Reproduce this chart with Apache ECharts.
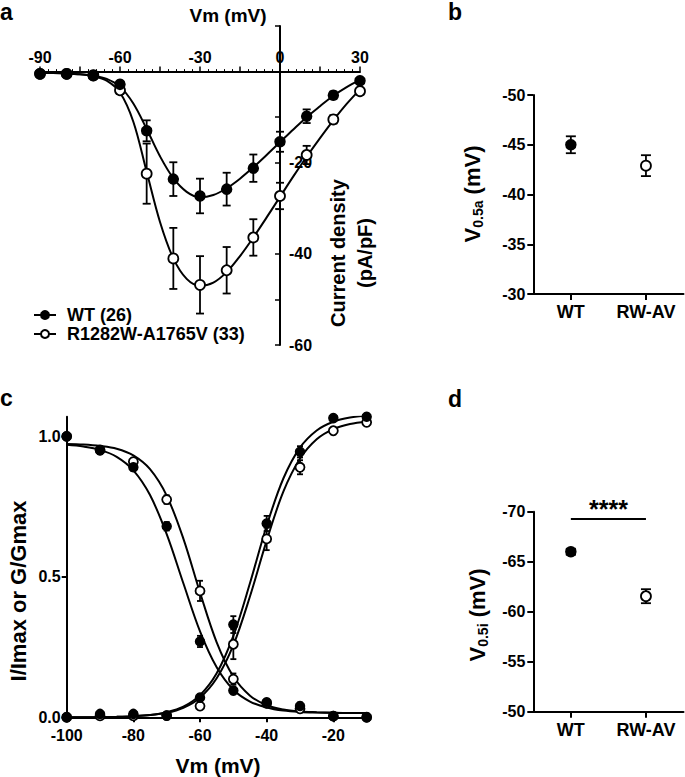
<!DOCTYPE html>
<html><head><meta charset="utf-8">
<script src="https://cdn.jsdelivr.net/npm/echarts@6/dist/echarts.min.js"></script>
<style>html,body{margin:0;padding:0;background:#fff}#c{width:685px;height:777px}</style>
</head><body><div id="c"></div>
<script>
// ---- Panel a: current density vs Vm (mean ± SEM) ----
const ivVm    = [-90,-80,-70,-60,-50,-40,-30,-20,-10,0,10,20,30];
const ivWT    = [-0.5,-0.5,-0.9,-2.8,-13.0,-23.6,-27.3,-25.8,-21.2,-15.4,-9.8,-5.2,-2.0];
const ivWTerr = [0.2,0.2,0.3,0.6,2.3,3.7,3.8,3.6,3.0,2.2,1.5,0.8,0.5];
const ivRW    = [-0.5,-0.5,-0.8,-4.1,-22.4,-41.0,-46.8,-43.6,-36.4,-27.3,-18.3,-10.5,-4.3];
const ivRWerr = [0.2,0.2,0.3,0.8,6.6,6.7,6.3,5.1,4.0,2.9,2.0,0.9,0.5];
// fitted curves, every 5 mV
const ivFitVm = [-90,-85,-80,-75,-70,-65,-60,-55,-50,-45,-40,-35,-30,-25,-20,-15,-10,-5,0,5,10,15,20,25,30];
const ivFitWT = [-0.3,-0.3,-0.4,-0.6,-0.9,-1.6,-3.3,-7.0,-12.6,-18.6,-23.4,-26.4,-27.6,-27.1,-25.6,-23.5,-21.0,-18.3,-15.5,-12.7,-10.0,-7.6,-5.3,-3.4,-1.8];
const ivFitRW = [-0.3,-0.3,-0.4,-0.6,-1.0,-2.0,-4.6,-11.0,-22.0,-33.0,-41.0,-45.5,-47.0,-46.3,-44.0,-40.5,-36.4,-32.0,-27.5,-23.0,-18.7,-14.6,-10.7,-7.1,-3.9];
const ivXLabels = [-90,-60,-30,0,30];
const ivYLabels = [-20,-40,-60];
const legendNames = ['WT (26)','R1282W-A1765V (33)'];

// ---- Panel b / d: half-voltages ----
const groups = ['WT','RW-AV'];
const v05a    = [-45.0,-42.9];
const v05aErr = [0.85,1.05];
const v05i    = [-66.0,-61.55];
const v05iErr = [0.3,0.7];
const sigLevel = -69.3;
const sigText = '****';

// ---- Panel c: steady-state activation / inactivation ----
const ssVm       = [-100,-90,-80,-70,-60,-50,-40,-30,-20,-10];
const inactWT    = [1.0,0.95,0.89,0.68,0.27,0.095,0.053,0.04,0.004,0.0];
const inactWTerr = [0.005,0.01,0.012,0.015,0.02,0.01,0.01,0.012,0.005,0.005];
const inactRW    = [1.0,0.952,0.91,0.775,0.45,0.136,0.05,0.03,0.004,0.0];
const inactRWerr = [0.005,0.01,0.01,0.015,0.036,0.02,0.01,0.01,0.005,0.005];
const actWT      = [0.0,0.012,0.012,0.006,0.07,0.33,0.69,0.945,1.065,1.07];
const actWTerr   = [0.003,0.005,0.005,0.004,0.01,0.03,0.027,0.02,0.008,0.005];
const actRW      = [0.0,0.005,0.005,0.006,0.04,0.26,0.635,0.89,1.02,1.05];
const actRWerr   = [0.003,0.004,0.004,0.004,0.01,0.053,0.04,0.025,0.01,0.008];
// fitted curves, every 5 mV
const ssFitVm     = [-100,-95,-90,-85,-80,-75,-70,-65,-60,-55,-50,-45,-40,-35,-30,-25,-20,-15,-10];
const inactFitWT  = [0.97,0.964,0.952,0.927,0.879,0.791,0.652,0.477,0.306,0.178,0.098,0.056,0.035,0.024,0.019,0.017,0.016,0.015,0.015];
const inactFitRW  = [0.973,0.971,0.966,0.956,0.932,0.883,0.789,0.636,0.444,0.267,0.145,0.077,0.043,0.028,0.021,0.018,0.016,0.015,0.015];
const actFitWT    = [0.0,0.0,0.001,0.002,0.004,0.008,0.018,0.038,0.079,0.157,0.29,0.478,0.682,0.85,0.96,1.021,1.052,1.067,1.074];
const actFitRW    = [0.0,0.0,0.001,0.002,0.004,0.008,0.016,0.034,0.07,0.139,0.257,0.431,0.629,0.803,0.921,0.99,1.026,1.044,1.052];
const ssXLabels = [-100,-80,-60,-40,-20];
const ssYLabels = [0,0.5,1.0];

const FONT = 'Liberation Sans';
const txt = (size) => ({fontFamily:FONT, fontWeight:'bold', fontSize:size, color:'#000'});
const AXL = {show:true, lineStyle:{color:'#000', width:2}};

function errRender(capW){
  return function(params, api){
    const x = api.value(0), y = api.value(1), e = api.value(2);
    const lo = api.coord([x, y - e]), hi = api.coord([x, y + e]);
    const style = {stroke:'#000', lineWidth:1.8, fill:null};
    return {type:'group', children:[
      {type:'line', shape:{x1:lo[0],y1:lo[1],x2:hi[0],y2:hi[1]}, style},
      {type:'line', shape:{x1:lo[0]-capW/2,y1:lo[1],x2:lo[0]+capW/2,y2:lo[1]}, style},
      {type:'line', shape:{x1:hi[0]-capW/2,y1:hi[1],x2:hi[0]+capW/2,y2:hi[1]}, style}
    ]};
  };
}
function errSeries(xs, ys, es, xi, cap){
  return {type:'custom', xAxisIndex:xi, yAxisIndex:xi, z:1, clip:false, silent:true,
    renderItem: errRender(cap), encode:{x:0,y:1},
    data: xs.map((x,i)=>[x, ys[i], es[i]])};
}
const filled = {color:'#000', borderColor:'#000', borderWidth:1.5, opacity:1};
const open = {color:'#fff', borderColor:'#000', borderWidth:1.8, opacity:1};
function pointSeries(name, xs, ys, xi, style, size, z){
  return {type:'line', name, xAxisIndex:xi, yAxisIndex:xi, z:z,
    data: xs.map((x,i)=>[x, ys[i]]),
    symbol:'circle', symbolSize:size, showSymbol:true,
    lineStyle:{color:'#000', width:2, opacity:0}, itemStyle:style, emphasis:{disabled:true}};
}
function fitSeries(xs, ys, xi){
  return {type:'line', xAxisIndex:xi, yAxisIndex:xi, z:2, silent:true,
    data: xs.map((x,i)=>[x, ys[i]]), smooth:0.35, showSymbol:false, symbol:'none',
    lineStyle:{color:'#000', width:2}, emphasis:{disabled:true}};
}
function dotSeries(gi, vals, xi, style){
  return {type:'scatter', xAxisIndex:xi, yAxisIndex:xi, z:3, symbol:'circle', symbolSize:10,
    itemStyle:style, data:[[groups[gi], vals[gi]]], emphasis:{disabled:true}};
}

const option = {
  animation:false,
  grid:[
    {left:40, top:26, width:320, height:319},
    {left:533.3, top:95, width:150.2, height:199},
    {left:66.7, top:416.7, width:303.3, height:300.6},
    {left:533.3, top:511.7, width:150.2, height:200}
  ],
  xAxis:[
    {type:'value', gridIndex:0, position:'top', offset:-45.6, min:-90, max:30, interval:15,
     axisLine:{...AXL, onZero:false}, splitLine:{show:false},
     axisTick:{show:true, length:5, lineStyle:{width:1.5,color:'#000'}},
     minorTick:{show:true, splitNumber:5, length:2.5, lineStyle:{color:'#000', width:1}},
     axisLabel:{...txt(16), margin:6, customValues:ivXLabels}},
    {type:'category', gridIndex:1, data:groups, boundaryGap:true,
     axisLine:AXL, axisTick:{show:true, alignWithLabel:true, length:6, lineStyle:{width:2,color:'#000'}},
     axisLabel:{...txt(18), margin:9, interval:0}},
    {type:'value', gridIndex:2, min:-100, max:-9, interval:20,
     axisLine:{...AXL, onZero:false}, splitLine:{show:false},
     axisTick:{show:true, length:5, lineStyle:{width:2,color:'#000'}, customValues:ssXLabels},
     axisLabel:{...txt(16), margin:10, customValues:ssXLabels}},
    {type:'category', gridIndex:3, data:groups, boundaryGap:true,
     axisLine:AXL, axisTick:{show:true, alignWithLabel:true, length:6, lineStyle:{width:2,color:'#000'}},
     axisLabel:{...txt(18), margin:9, interval:0}}
  ],
  yAxis:[
    {type:'value', gridIndex:0, position:'right', offset:-80, min:-60, max:10, interval:10,
     axisLine:{...AXL, onZero:false}, splitLine:{show:false},
     axisTick:{show:true, inside:true, length:5, lineStyle:{width:1.5,color:'#000'}},
     axisLabel:{...txt(16), margin:9, customValues:ivYLabels}},
    {type:'value', gridIndex:1, inverse:true, min:-50, max:-30, interval:5,
     axisLine:{...AXL, onZero:false}, splitLine:{show:false},
     axisTick:{show:true, length:6, lineStyle:{width:2,color:'#000'}},
     axisLabel:{...txt(16), margin:8}},
    {type:'value', gridIndex:2, min:0, max:1.07, interval:0.5,
     axisLine:{...AXL, onZero:false}, splitLine:{show:false},
     axisTick:{show:true, length:5, lineStyle:{width:2,color:'#000'}, customValues:ssYLabels},
     axisLabel:{...txt(16), margin:6, customValues:ssYLabels, formatter:v=>v.toFixed(1)}},
    {type:'value', gridIndex:3, inverse:true, min:-70, max:-50, interval:5,
     axisLine:{...AXL, onZero:false}, splitLine:{show:false},
     axisTick:{show:true, length:6, lineStyle:{width:2,color:'#000'}},
     axisLabel:{...txt(16), margin:8}}
  ],
  legend:{data:legendNames, left:28, top:301, orient:'vertical', itemGap:1,
    itemWidth:22, itemHeight:10, selectedMode:false,
    lineStyle:{width:2, color:'#000', opacity:1},
    textStyle:{...txt(18), padding:[0,0,0,6]}},
  series:[
    errSeries(ivVm, ivWT, ivWTerr, 0, 8),
    errSeries(ivVm, ivRW, ivRWerr, 0, 8),
    fitSeries(ivFitVm, ivFitWT, 0),
    fitSeries(ivFitVm, ivFitRW, 0),
    pointSeries(legendNames[0], ivVm, ivWT, 0, filled, 10, 4),
    pointSeries(legendNames[1], ivVm, ivRW, 0, open, 10, 3),

    errSeries([groups[0]], [v05a[0]], [v05aErr[0]], 1, 10),
    errSeries([groups[1]], [v05a[1]], [v05aErr[1]], 1, 10),
    dotSeries(0, v05a, 1, filled),
    dotSeries(1, v05a, 1, open),

    errSeries(ssVm, inactWT, inactWTerr, 2, 6),
    errSeries(ssVm, inactRW, inactRWerr, 2, 6),
    errSeries(ssVm, actWT, actWTerr, 2, 6),
    errSeries(ssVm, actRW, actRWerr, 2, 6),
    fitSeries(ssFitVm, inactFitWT, 2),
    fitSeries(ssFitVm, inactFitRW, 2),
    fitSeries(ssFitVm, actFitWT, 2),
    fitSeries(ssFitVm, actFitRW, 2),
    pointSeries('inactRW', ssVm, inactRW, 2, open, 9, 3),
    pointSeries('actRW', ssVm, actRW, 2, open, 9, 3),
    pointSeries('inactWT', ssVm, inactWT, 2, filled, 9, 4),
    pointSeries('actWT', ssVm, actWT, 2, filled, 9, 4),

    errSeries([groups[0]], [v05i[0]], [v05iErr[0]], 3, 10),
    errSeries([groups[1]], [v05i[1]], [v05iErr[1]], 3, 10),
    Object.assign(dotSeries(0, v05i, 3, filled), {
      markLine:{silent:true, symbol:'none', lineStyle:{color:'#000', width:2, type:'solid'},
        label:{show:true, position:'middle', formatter:sigText, ...txt(25), distance:-3},
        data:[[{coord:[0, sigLevel]},{coord:[1, sigLevel]}]]}}),
    dotSeries(1, v05i, 3, open)
  ],
  graphic:[
    {type:'text', x:0, y:12, style:{text:'a', font:'bold 23px "Liberation Sans"', fill:'#000', verticalAlign:'middle'}},
    {type:'text', x:448, y:12, style:{text:'b', font:'bold 23px "Liberation Sans"', fill:'#000', verticalAlign:'middle'}},
    {type:'text', x:0, y:398, style:{text:'c', font:'bold 23px "Liberation Sans"', fill:'#000', verticalAlign:'middle'}},
    {type:'text', x:448, y:399, style:{text:'d', font:'bold 23px "Liberation Sans"', fill:'#000', verticalAlign:'middle'}},
    {type:'text', x:228, y:15, style:{text:'Vm (mV)', font:'bold 19px "Liberation Sans"', fill:'#000', align:'center', verticalAlign:'middle'}},
    {type:'text', x:351, y:253, rotation:Math.PI/2, style:{text:'Current density\n(pA/pF)', font:'bold 20px "Liberation Sans"', lineHeight:27, fill:'#000', align:'center', verticalAlign:'middle'}},
    {type:'text', x:218, y:765, style:{text:'Vm (mV)', font:'bold 21px "Liberation Sans"', fill:'#000', align:'center', verticalAlign:'middle'}},
    {type:'text', x:18, y:591, rotation:Math.PI/2, style:{text:'I/Imax or G/Gmax', font:'bold 22px "Liberation Sans"', fill:'#000', align:'center', verticalAlign:'middle'}},
    {type:'text', x:472, y:194, rotation:Math.PI/2, style:{text:'{m|V}{s|0.5a}{m| (mV)}', align:'center', verticalAlign:'middle',
      rich:{m:{fontFamily:FONT, fontWeight:'bold', fontSize:22, fill:'#000', lineHeight:26}, s:{fontFamily:FONT, fontWeight:'bold', fontSize:14, fill:'#000', verticalAlign:'bottom', lineHeight:20}}}},
    {type:'text', x:477, y:615, rotation:Math.PI/2, style:{text:'{m|V}{s|0.5i}{m| (mV)}', align:'center', verticalAlign:'middle',
      rich:{m:{fontFamily:FONT, fontWeight:'bold', fontSize:22, fill:'#000', lineHeight:26}, s:{fontFamily:FONT, fontWeight:'bold', fontSize:14, fill:'#000', verticalAlign:'bottom', lineHeight:20}}}}
  ]
};
const chart = echarts.init(document.getElementById('c'), null, {renderer:'svg'});
chart.setOption(option);
</script></body></html>
